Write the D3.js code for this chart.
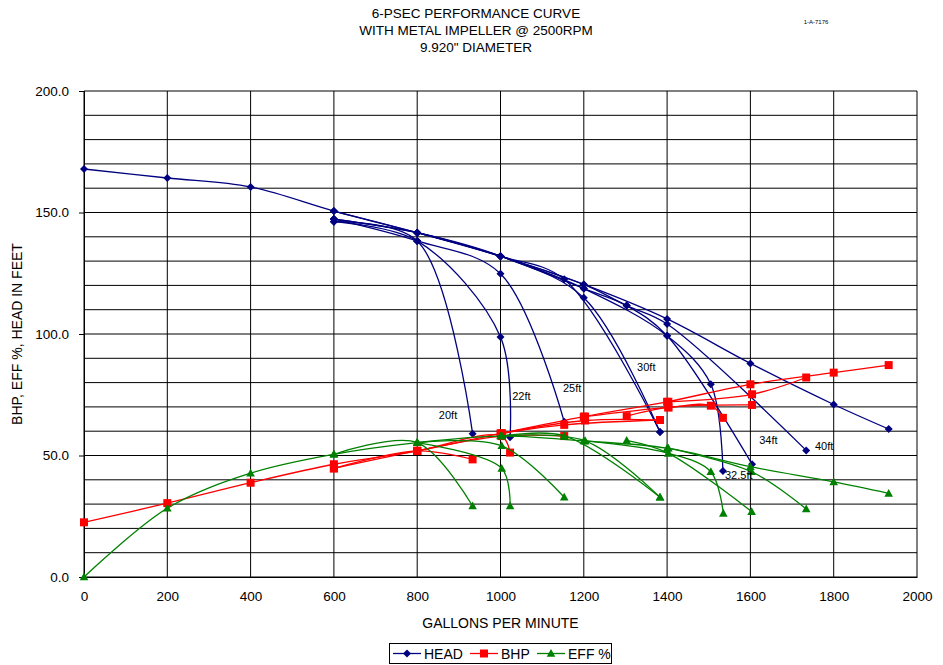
<!DOCTYPE html>
<html>
<head>
<meta charset="utf-8">
<script src="https://cdn.jsdelivr.net/npm/d3@7"></script>
<style>
  html, body { margin: 0; padding: 0; background: #fff; }
  svg text { font-family: "Liberation Sans", Arial, sans-serif; fill: #000; }
</style>
</head>
<body>
<svg id="chart" width="943" height="665"></svg>
<script>
// ── data (gpm, value) ──
const titleLines = ['6-PSEC PERFORMANCE CURVE', 'WITH METAL IMPELLER @ 2500RPM', '9.920" DIAMETER'];
const docCode = '1-A-7176';
const xTicks = [0, 200, 400, 600, 800, 1000, 1200, 1400, 1600, 1800, 2000];
const yTicks = [0, 50, 100, 150, 200];

// HEAD (ft): full curve + drop-off curves for each suction lift
const headMain = [[0,167.9],[200,164.2],[400,160.5],[600,150.6],[800,141.7],[1000,132],[1200,120.4],[1400,106.2],[1600,87.9],[1800,71],[1932,60.9]];
const head20 = [[600,146.2],[800,138.3],[933,59]];
const head22 = [[600,146.2],[800,138.3],[1000,98.8],[1023,57.5]];
const head25 = [[600,147.3],[800,138.3],[1000,124.8],[1153,63.9]];
const head30a = [[600,147.3],[800,141.7],[1000,132],[1153,122.5],[1383,59.7]];
const head30b = [[600,147.3],[800,141.7],[1000,132],[1200,114.9],[1383,59.7]];
const head325 = [[600,150.6],[800,141.7],[1000,132],[1200,118.7],[1400,99.3],[1505,79.3],[1534,43.6]];
const head34 = [[800,141.7],[1000,132],[1200,118.7],[1303,111.7],[1400,99.3],[1604,46.4]];
const head40 = [[1000,132],[1200,120.4],[1303,111.7],[1400,104.1],[1734,52.1]];

// BHP
const bhpMain = [[0,22.5],[200,30.4],[400,38.8],[600,46.4],[800,51.9],[1000,59.1],[1200,66],[1400,72.1],[1600,79.3],[1800,84.1],[1932,87.2]];
const bhp20 = [[600,44.7],[800,51.9],[933,48.4]];
const bhp22 = [[600,44.7],[800,51.9],[1003,58],[1023,51.2]];
const bhp25 = [[800,51.9],[1003,58],[1153,58]];
const bhp30a = [[1003,59.1],[1153,62.6],[1383,64.6]];
const bhp30b = [[1003,59.1],[1203,64.4],[1383,64.6]];
const bhp325 = [[1203,66],[1403,69.8],[1505,70.5],[1534,65.5]];
const bhp34 = [[1303,66.2],[1403,69.8],[1604,70.8]];
const bhp40 = [[1403,72.1],[1604,75.2],[1734,82.1]];

// EFF %
const effMain = [[0,0],[200,28.3],[400,42.7],[600,50.5],[800,55.3],[1000,58],[1200,56],[1400,53],[1600,45.4],[1800,39.1],[1932,34.4]];
const eff20 = [[600,50.5],[800,55.3],[933,29.2]];
const eff22 = [[800,55.3],[1003,44.7],[1023,29.2]];
const eff25 = [[800,55.3],[1003,54],[1153,32.8]];
const eff30a = [[1003,58],[1153,58.1],[1383,32.8]];
const eff30b = [[1003,58],[1203,56],[1383,32.8]];
const eff325 = [[1203,56],[1403,50.9],[1505,43.3],[1535,26.2]];
const eff34 = [[1303,56.2],[1403,50.9],[1603,26.9]];
const eff40 = [[1403,53],[1603,43.3],[1734,28]];

// curve tags, anchored in (gpm, value)
const curveLabels = [
  { text: '20ft', gpm: 852, val: 65 },
  { text: '22ft', gpm: 1028, val: 72.8 },
  { text: '25ft', gpm: 1150, val: 76.1 },
  { text: '30ft', gpm: 1328, val: 84.8 },
  { text: '34ft', gpm: 1621, val: 54.7 },
  { text: '40ft', gpm: 1755, val: 52.3 },
  { text: '32.5ft', gpm: 1539, val: 40.3 },
];

const SERIES = [
  { name: 'HEAD', color: '#000080', marker: 'diamond', curves: [headMain, head20, head22, head25, head30a, head30b, head325, head34, head40] },
  { name: 'BHP', color: '#ff0000', marker: 'square', curves: [bhpMain, bhp20, bhp22, bhp25, bhp30a, bhp30b, bhp325, bhp34, bhp40] },
  { name: 'EFF %', color: '#008000', marker: 'triangle', curves: [effMain, eff20, eff22, eff25, eff30a, eff30b, eff325, eff34, eff40] },
];

// ── layout ──
const svg = d3.select('#chart');
const M = { left: 84, right: 917, top: 91, bottom: 577 };
const x = d3.scaleLinear().domain([0, 2000]).range([M.left, M.right]);
const y = d3.scaleLinear().domain([0, 200]).range([M.bottom, M.top]);

const markerPath = {
  diamond: 'M0,-4L4,0L0,4L-4,0Z',
  square: 'M-4,-4H4V4H-4Z',
  triangle: 'M0,-4.5L4.3,3.3H-4.3Z',
};

// titles
svg.append('g').selectAll('text').data(titleLines).enter().append('text')
  .attr('x', 476).attr('y', (d, i) => 18 + i * 17)
  .attr('text-anchor', 'middle').attr('font-size', 13.5)
  .text(d => d);
svg.append('text').attr('x', 816).attr('y', 24).attr('text-anchor', 'middle')
  .attr('font-size', 6).text(docCode);

// grid
const grid = svg.append('g');
grid.selectAll('.gy').data(d3.range(0, 201, 10)).enter().append('line')
  .attr('x1', M.left).attr('x2', M.right)
  .attr('y1', d => y(d)).attr('y2', d => y(d))
  .attr('stroke', '#000').attr('stroke-width', 1);
grid.selectAll('.gx').data(xTicks).enter().append('line')
  .attr('y1', M.top).attr('y2', M.bottom)
  .attr('x1', d => x(d)).attr('x2', d => x(d))
  .attr('stroke', '#000').attr('stroke-width', 1);

// axes
const yAxis = svg.append('g').attr('transform', `translate(${M.left},0)`)
  .call(d3.axisLeft(y).tickValues(yTicks).tickFormat(d3.format('.1f')).tickSize(5).tickPadding(10));
const xAxis = svg.append('g').attr('transform', `translate(0,${M.bottom})`)
  .call(d3.axisBottom(x).tickValues(xTicks).tickFormat(d3.format('d')).tickSize(0).tickPadding(14));
[yAxis, xAxis].forEach(a => {
  a.select('.domain').attr('stroke', '#000');
  a.selectAll('line').attr('stroke', '#000');
  a.selectAll('text').attr('font-size', 13.5).attr('font-family', '"Liberation Sans", Arial, sans-serif');
});

svg.append('text').attr('x', (M.left + M.right) / 2).attr('y', 628)
  .attr('text-anchor', 'middle').attr('font-size', 14).text('GALLONS PER MINUTE');
svg.append('text').attr('transform', `translate(22,${(M.top + M.bottom) / 2}) rotate(-90)`)
  .attr('text-anchor', 'middle').attr('font-size', 14).text('BHP, EFF %, HEAD IN FEET');

// lines + markers
const line = d3.line().x(d => x(d[0])).y(d => y(d[1])).curve(d3.curveCatmullRom.alpha(0.5));
const plot = svg.append('g');
SERIES.forEach(s => {
  const g = plot.append('g');
  g.selectAll('path.crv').data(s.curves).enter().append('path')
    .attr('d', line).attr('fill', 'none')
    .attr('stroke', s.color).attr('stroke-width', 1.3);
  g.selectAll('path.mk').data(s.curves.flat()).enter().append('path')
    .attr('d', markerPath[s.marker])
    .attr('transform', d => `translate(${x(d[0])},${y(d[1])})`)
    .attr('fill', s.color);
});

// curve labels
plot.selectAll('text.lbl').data(curveLabels).enter().append('text')
  .attr('x', d => x(d.gpm)).attr('y', d => y(d.val))
  .attr('font-size', 11).text(d => d.text);

// legend
const lg = svg.append('g');
lg.append('rect').attr('x', 389.5).attr('y', 643.5).attr('width', 222).attr('height', 20)
  .attr('fill', '#fff').attr('stroke', '#000');
const legendX = [393, 470, 537];
SERIES.forEach((s, i) => {
  const lx = legendX[i];
  lg.append('line').attr('x1', lx).attr('x2', lx + 28).attr('y1', 653.5).attr('y2', 653.5)
    .attr('stroke', s.color).attr('stroke-width', 1.3);
  lg.append('path').attr('d', markerPath[s.marker])
    .attr('transform', `translate(${lx + 14},653.5)`).attr('fill', s.color);
  lg.append('text').attr('x', lx + 31).attr('y', 659).attr('font-size', 14).text(s.name);
});
</script>
</body>
</html>
